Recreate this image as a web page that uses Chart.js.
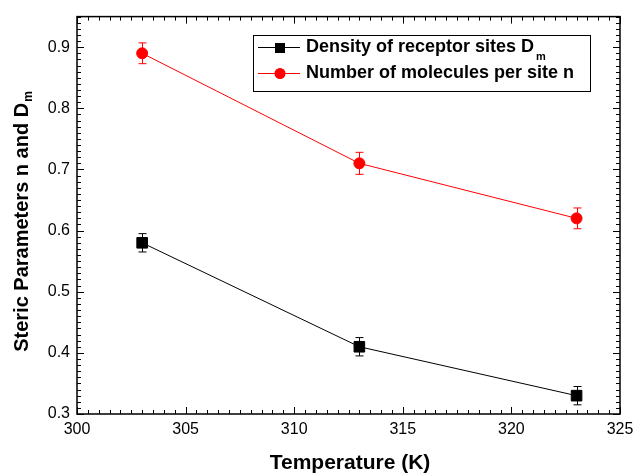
<!DOCTYPE html>
<html>
<head>
<meta charset="utf-8">
<script src="https://cdn.jsdelivr.net/npm/chart.js@4/dist/chart.umd.min.js"></script>
<style>
  html, body { margin: 0; padding: 0; background: #fff; }
  #wrap { width: 633px; height: 474px; }
</style>
</head>
<body>
<div id="wrap"><canvas id="c"></canvas></div>
<script>
// data
const temps = [303, 313, 323];
const dmValues = [0.58, 0.41, 0.33];
const dmErr = [0.015, 0.015, 0.015];
const nValues = [0.89, 0.71, 0.62];
const nErr = [0.017, 0.018, 0.017];
const xTicks = [300, 305, 310, 315, 320, 325];
const yTicks = [0.3, 0.4, 0.5, 0.6, 0.7, 0.8, 0.9];
const seriesNames = ['Density of receptor sites D', 'Number of molecules per site n'];

const FONT = '"Liberation Sans", Arial, sans-serif';

// error bars drawn through the scales
const errorBars = {
  id: 'errorBars',
  afterDatasetsDraw(chart){
    const {ctx, scales:{x, y}} = chart;
    chart.data.datasets.forEach(ds=>{
      ctx.save();
      ctx.strokeStyle = ds.borderColor;
      ctx.lineWidth = 1;
      ds.data.forEach((p, i)=>{
        const e = ds.errors[i];
        const px = Math.round(x.getPixelForValue(p.x)) + 0.5;
        const top = y.getPixelForValue(p.y + e), bot = y.getPixelForValue(p.y - e);
        ctx.beginPath();
        ctx.moveTo(px, top); ctx.lineTo(px, bot);
        ctx.moveTo(px-4, top); ctx.lineTo(px+4, top);
        ctx.moveTo(px-4, bot); ctx.lineTo(px+4, bot);
        ctx.stroke();
      });
      ctx.restore();
    });
  }
};

// frame + inward ticks on all four sides, titles, legend box
const frame = {
  id: 'frame',
  afterDraw(chart){
    const {ctx, chartArea:a, scales:{x, y}} = chart;
    ctx.save();
    ctx.strokeStyle = '#000';
    ctx.lineWidth = 1.5;
    ctx.strokeRect(a.left, a.top, a.right-a.left, a.bottom-a.top);
    ctx.lineWidth = 1;
    ctx.beginPath();
    for(let v=300; v<=325.001; v+=0.5){
      const px = Math.round(x.getPixelForValue(v)) + 0.5;
      const len = Math.abs(v % 5) < 0.01 ? 7 : 4;
      ctx.moveTo(px, a.bottom); ctx.lineTo(px, a.bottom-len);
      ctx.moveTo(px, a.top); ctx.lineTo(px, a.top+len);
    }
    for(let k=30; k<=95; k++){
      const v = k/100;
      const py = Math.round(y.getPixelForValue(v)) + 0.5;
      const len = k % 10 === 0 ? 7 : 4;
      ctx.moveTo(a.left, py); ctx.lineTo(a.left+len, py);
      ctx.moveTo(a.right, py); ctx.lineTo(a.right-len, py);
    }
    ctx.stroke();

    // x title
    ctx.fillStyle = '#000';
    ctx.font = 'bold 21px ' + FONT;
    ctx.textAlign = 'center';
    ctx.textBaseline = 'middle';
    ctx.fillText('Temperature (K)', 350, 463);

    // y title with subscript
    ctx.save();
    ctx.translate(22, 222);
    ctx.rotate(-Math.PI/2);
    const main = 'Steric Parameters n and D';
    ctx.font = 'bold 20px ' + FONT;
    const w1 = ctx.measureText(main).width;
    ctx.font = 'bold 12px ' + FONT;
    const w2 = ctx.measureText('m').width;
    const x0 = -(w1+w2)/2;
    ctx.textAlign = 'left';
    ctx.font = 'bold 20px ' + FONT;
    ctx.fillText(main, x0, 0);
    ctx.font = 'bold 12px ' + FONT;
    ctx.fillText('m', x0 + w1 + 1, 7);
    ctx.restore();

    // legend
    const lx = 253, ly = 35, lw = 337, lh = 56;
    ctx.lineWidth = 1;
    ctx.strokeRect(lx+0.5, ly+0.5, lw, lh);
    const rows = [ly+12, ly+38];
    chart.data.datasets.forEach((ds, i)=>{
      const cy = rows[i];
      ctx.strokeStyle = ds.borderColor;
      ctx.beginPath();
      ctx.moveTo(258, cy+0.5); ctx.lineTo(300, cy+0.5);
      ctx.stroke();
      ctx.fillStyle = ds.backgroundColor;
      if(ds.pointStyle === 'rect'){
        ctx.fillRect(275, cy-4, 10, 10);
      } else {
        ctx.beginPath(); ctx.arc(280, cy+0.5, 5.5, 0, Math.PI*2); ctx.fill();
      }
      ctx.fillStyle = '#000';
      ctx.font = 'bold 18px ' + FONT;
      ctx.textAlign = 'left';
      ctx.textBaseline = 'middle';
      ctx.fillText(seriesNames[i], 306, cy);
      if(i === 0){
        const tw = ctx.measureText(seriesNames[i]).width;
        ctx.font = 'bold 11px ' + FONT;
        ctx.fillText('m', 306 + tw + 2, cy + 10);
      }
    });
    ctx.restore();
  }
};

new Chart(document.getElementById('c'), {
  type: 'line',
  data: {
    datasets: [
      {
        label: seriesNames[0],
        data: temps.map((t, i)=>({x:t, y:dmValues[i]})),
        errors: dmErr,
        borderColor: '#000', backgroundColor: '#000',
        borderWidth: 1, pointStyle: 'rect', pointRadius: 7.5, pointHoverRadius: 7.5
      },
      {
        label: seriesNames[1],
        data: temps.map((t, i)=>({x:t, y:nValues[i]})),
        errors: nErr,
        borderColor: '#ff0000', backgroundColor: '#ff0000',
        borderWidth: 1, pointStyle: 'circle', pointRadius: 5.5, pointHoverRadius: 5.5
      }
    ]
  },
  options: {
    responsive: true,
    maintainAspectRatio: false,
    animation: false,
    layout: { padding: { top: 12, right: 13, left: 0, bottom: 0 } },
    plugins: { legend: { display: false }, tooltip: { enabled: false } },
    scales: {
      x: {
        type: 'linear', min: 300, max: 325,
        afterBuildTicks: s => { s.ticks = xTicks.map(v=>({value:v})); },
        afterFit: s => { s.height = 60; s.paddingLeft = 0; s.paddingRight = 0; },
        grid: { display: false, drawTicks: false },
        border: { display: false },
        ticks: { color: '#000', font: { family: FONT, size: 16 }, padding: 6, maxRotation: 0 }
      },
      y: {
        type: 'linear', min: 0.3, max: 0.95,
        afterBuildTicks: s => { s.ticks = yTicks.map(v=>({value:v})); },
        afterFit: s => { s.width = 77; },
        grid: { display: false, drawTicks: false },
        border: { display: false },
        ticks: { color: '#000', font: { family: FONT, size: 16 }, padding: 7, callback: v => v.toFixed(1) }
      }
    }
  },
  plugins: [errorBars, frame]
});
</script>
</body>
</html>
